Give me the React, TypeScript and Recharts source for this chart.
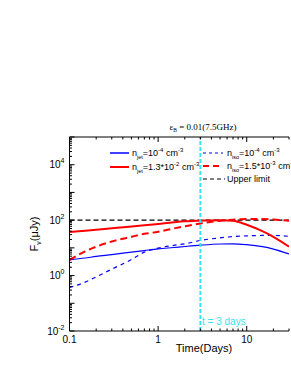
import { LineChart, Line, XAxis, YAxis, ReferenceLine } from "recharts";

// time grid (days) and flux densities (uJy)
const times = [0.1, 0.15, 0.2, 0.3, 0.5, 0.7, 1, 1.5, 2, 3, 5, 7, 10, 15, 20, 30];
const jetLow = [3.7, 4.3, 4.9, 5.7, 7, 8, 9.2, 10.3, 11.2, 12.5, 13.8, 14, 13, 11, 9, 6];
const jetHigh = [37, 41.5, 45, 51, 59, 65, 73, 84, 91, 96, 100, 95, 68, 40, 25, 11];
const isoLow = [0.37, 0.58, 0.9, 1.7, 3.8, 7, 9.8, 12.3, 14, 18.5, 23, 25.5, 27, 28, 28, 26];
const isoHigh = [3.7, 7.5, 11, 17, 25, 32, 38, 50, 60, 76, 95, 104, 110, 110, 105, 96];
const upperLimit = 100;
const tObs = 3;

const xTicks = [0.1, 0.2, 0.3, 0.4, 0.5, 0.6, 0.7, 0.8, 0.9, 1, 2, 3, 4, 5, 6, 7, 8, 9, 10, 20, 30];
const xLabels = ["0.1", "1", "10"];
const yDecades = [-2, -1, 0, 1, 2, 3, 4];
const yLabeled = [-2, 0, 2, 4];

const yTicks: number[] = [];
yDecades.forEach((e) => {
  for (let m = 1; m <= 9; m++) yTicks.push(Number((m * Math.pow(10, e)).toPrecision(3)));
});
yTicks.push(1e5);

const toRows = (vals: number[]) => times.map((t, i) => ({ t, v: vals[i] }));

const FONT = "'Liberation Sans', Arial, sans-serif";
const CYAN = "#35e4f0";

const XTick = (props: any) => {
  const { x, y, payload, top } = props;
  const v = payload.value;
  const label = xLabels.find((s) => Number(s) === v);
  const len = label ? 5 : 2.5;
  const dir = top ? 1 : -1;
  return (
    <g>
      <line x1={x} x2={x} y1={y} y2={y + dir * len} stroke="#000" strokeWidth={1} />
      {!top && label && (
        <text x={x} y={y + 12} textAnchor="middle" fontSize={10} fontFamily={FONT} fill="#000">
          {label}
        </text>
      )}
    </g>
  );
};

const YTick = (props: any) => {
  const { x, y, payload } = props;
  const e = Math.log10(payload.value);
  const isDecade = Math.abs(e - Math.round(e)) < 1e-6;
  const exp = Math.round(e);
  const labeled = isDecade && yLabeled.includes(exp);
  const len = isDecade ? 5 : 2.5;
  return (
    <g>
      <line x1={x} x2={x + len} y1={y} y2={y} stroke="#000" strokeWidth={1} />
      {labeled && (
        <text x={x - 5} y={y + 3.5} textAnchor="end" fontSize={10} fontFamily={FONT} fill="#000">
          <tspan>10</tspan>
          <tspan dy={-5} fontSize={7}>{exp}</tspan>
        </text>
      )}
    </g>
  );
};

const Sub = ({ children }: { children: string }) => (
  <tspan dy={2.5} fontSize={5.5}>{children}</tspan>
);

function LegendText({ x, y, sub, value, exp }: { x: number; y: number; sub: string; value: string; exp: string }) {
  return (
    <text x={x} y={y + 3} fontSize={9} fontFamily={FONT} fill="#000">
      <tspan>n</tspan>
      <Sub>{sub}</Sub>
      <tspan dy={-2.5}>{"=" + value}</tspan>
      <tspan dy={-4} fontSize={6}>{exp}</tspan>
      <tspan dy={4}> cm</tspan>
      <tspan dy={-4} fontSize={6}>-3</tspan>
    </text>
  );
}

export default function App() {
  return (
    <div style={{ position: "absolute", left: 0, top: 0, width: 291, height: 376, overflow: "hidden", background: "#fff" }}>
      <LineChart
        width={291}
        height={376}
        margin={{ top: 136, right: 2, bottom: 20, left: 29.5 }}
      >
        <XAxis
          dataKey="t"
          type="number"
          scale="log"
          domain={[0.1, 30]}
          allowDataOverflow
          ticks={xTicks}
          interval={0}
          tickSize={0}
          tickMargin={0}
          tickLine={false}
          height={25}
          axisLine={{ stroke: "#000", strokeWidth: 1 }}
          tick={<XTick />}
        />
        <XAxis
          xAxisId="top"
          orientation="top"
          dataKey="t"
          type="number"
          scale="log"
          domain={[0.1, 30]}
          allowDataOverflow
          ticks={xTicks}
          interval={0}
          tickSize={0}
          tickMargin={0}
          tickLine={false}
          height={1}
          axisLine={{ stroke: "#000", strokeWidth: 1 }}
          tick={<XTick top />}
        />
        <YAxis
          type="number"
          scale="log"
          domain={[0.01, 1e5]}
          allowDataOverflow
          ticks={yTicks}
          interval={0}
          tickSize={0}
          tickMargin={0}
          tickLine={false}
          width={40}
          axisLine={{ stroke: "#000", strokeWidth: 1 }}
          tick={<YTick />}
        />
        <ReferenceLine y={upperLimit} stroke="#000" strokeWidth={1.2} strokeDasharray="5 3" />
        <Line data={toRows(jetLow)} dataKey="v" type="monotone" stroke="#0000ff" strokeWidth={1.2} dot={false} isAnimationActive={false} />
        <Line data={toRows(isoLow)} dataKey="v" type="monotone" stroke="#0000ff" strokeWidth={1.2} strokeDasharray="4 4" dot={false} isAnimationActive={false} />
        <Line data={toRows(jetHigh)} dataKey="v" type="monotone" stroke="#ff0000" strokeWidth={2} dot={false} isAnimationActive={false} />
        <Line data={toRows(isoHigh)} dataKey="v" type="monotone" stroke="#ff0000" strokeWidth={2} strokeDasharray="7 4" dot={false} isAnimationActive={false} />
        <ReferenceLine x={tObs} stroke={CYAN} strokeWidth={2} strokeDasharray="4 2" />
      </LineChart>

      <svg width={291} height={376} style={{ position: "absolute", left: 0, top: 0, pointerEvents: "none" }}>
        <text x={203} y={130} textAnchor="middle" fontSize={9} fontFamily="'Liberation Serif', serif" fill="#000">
          <tspan>ε</tspan>
          <tspan dy={2} fontSize={5.5}>B</tspan>
          <tspan dy={-2}> = 0.01(7.5GHz)</tspan>
        </text>

        <line x1={110} x2={129} y1={153} y2={153} stroke="#0000ff" strokeWidth={1.5} />
        <LegendText x={132} y={153} sub="jet" value="10" exp="-4" />
        <line x1={110} x2={129} y1={167} y2={167} stroke="#ff0000" strokeWidth={2} />
        <LegendText x={132} y={167} sub="jet" value="1.3*10" exp="-2" />

        <line x1={203} x2={223} y1={153} y2={153} stroke="#0000ff" strokeWidth={1.2} strokeDasharray="3 3" />
        <LegendText x={227} y={153} sub="iso" value="10" exp="-4" />
        <line x1={203} x2={223} y1={166} y2={166} stroke="#ff0000" strokeWidth={2} strokeDasharray="6 4" />
        <LegendText x={227} y={166} sub="iso" value="1.5*10" exp="-3" />
        <line x1={203} x2={225} y1={179} y2={179} stroke="#000" strokeWidth={1.2} strokeDasharray="4 3" />
        <text x={227} y={182} fontSize={9} fontFamily={FONT} fill="#000">Upper limit</text>

        <text x={202} y={325} fontSize={10} fontFamily={FONT} fill={CYAN}>t = 3 days</text>

        <text x={204} y={352} textAnchor="middle" fontSize={11} fontFamily={FONT} fill="#000">Time(Days)</text>

        <text transform="translate(38,234) rotate(-90)" textAnchor="middle" fontSize={11} fontFamily={FONT} fill="#000">
          <tspan>F</tspan>
          <tspan dy={2.5} fontSize={7}>ν</tspan>
          <tspan dy={-2.5}>(μJy)</tspan>
        </text>
      </svg>
    </div>
  );
}
